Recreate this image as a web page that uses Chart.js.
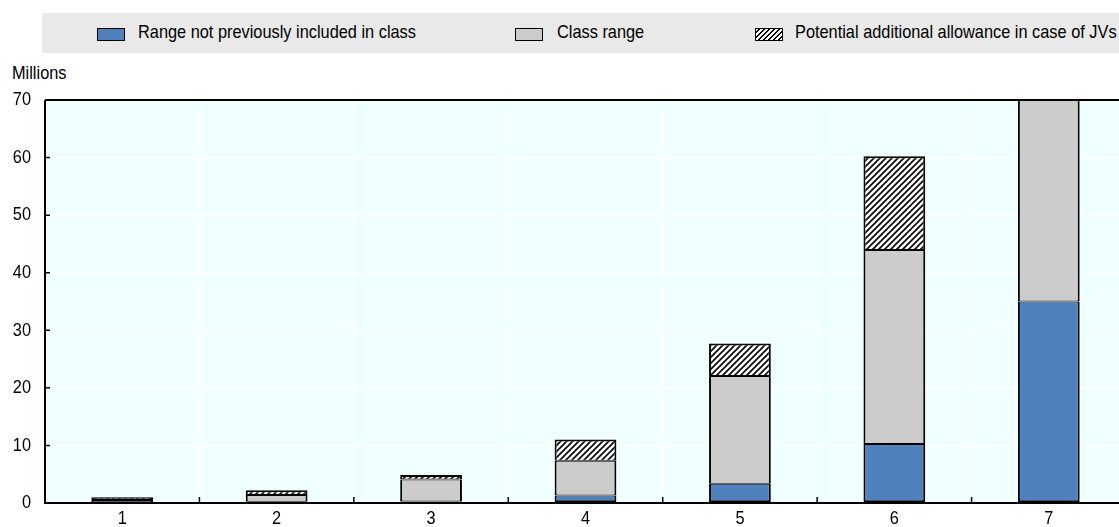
<!DOCTYPE html>
<html>
<head>
<meta charset="utf-8">
<script src="https://cdn.jsdelivr.net/npm/chart.js@4"></script>
<style>
html,body{margin:0;padding:0;background:#fff;overflow:hidden;width:1119px;height:527px;}
body{position:relative;font-family:"Liberation Sans",Arial,sans-serif;color:#000;}
#wrap{position:absolute;left:0;top:0;width:1130px;height:527px;}
#legend{position:absolute;left:42px;top:13px;width:1090px;height:40px;background:#e9e9e9;}
.item{position:absolute;top:0;height:40px;line-height:40px;font-size:19px;white-space:nowrap;}
.box{position:absolute;top:15px;width:26px;height:11px;border:1.5px solid #000;}
.lbl{position:absolute;top:-1px;transform:scaleX(0.86);transform-origin:0 50%;}
#millions{position:absolute;left:12px;top:62px;font-size:19px;transform:scaleX(0.86);transform-origin:0 50%;}
</style>
</head>
<body>
<div id="legend">
  <div class="item" style="left:55px"><div class="box" style="left:0;background:#4F81BD"></div><span class="lbl" style="left:41px">Range not previously included in class</span></div>
  <div class="item" style="left:473px"><div class="box" style="left:0;background:#CCCCCC"></div><span class="lbl" style="left:42px">Class range</span></div>
  <div class="item" style="left:713px"><div class="box" style="left:0;background:repeating-linear-gradient(135deg,#fff 0 2px,#000 2px 3.5px)"></div><span class="lbl" style="left:40px">Potential additional allowance in case of JVs</span></div>
</div>
<div id="millions">Millions</div>
<div id="wrap"><canvas id="c" width="1130" height="527"></canvas></div>
<script>
const categories = ['1','2','3','4','5','6','7'];
const notIncluded = [0, 0.2, 0.25, 1.3, 3.35, 10.25, 35];
const classRange = [0.5, 1.2, 3.85, 6.05, 18.7, 33.7, 45];
const jvAllowance = [0.5, 0.8, 0.75, 3.7, 5.65, 16.3, 20];
const yTicks = [0,10,20,30,40,50,60,70];

function hatch(){
  const s=6, p=document.createElement('canvas');
  p.width=s;p.height=s;
  const g=p.getContext('2d');
  g.fillStyle='#fff';g.fillRect(0,0,s,s);
  g.strokeStyle='#000';g.lineWidth=1.6;
  g.beginPath();
  g.moveTo(-1,s+1);g.lineTo(s+1,-1);
  g.moveTo(-1,1);g.lineTo(1,-1);
  g.moveTo(s-1,s+1);g.lineTo(s+1,s-1);
  g.stroke();
  return g.createPattern(p,'repeat');
}

const LABEL_FONT = '19px "Liberation Sans", Arial, sans-serif';
const SQUEEZE = 0.86;

const framePlugin = {
  id:'frame',
  beforeDraw(chart){
    const {ctx, chartArea:a} = chart;
    ctx.save();
    ctx.fillStyle='#F0FFFF';
    ctx.fillRect(a.left,a.top,a.right-a.left,a.bottom-a.top);
    ctx.restore();
  },
  afterDatasetsDraw(chart){
    const {ctx, chartArea:a, scales} = chart;
    ctx.save();
    ctx.strokeStyle='#000';
    ctx.lineWidth=2;
    ctx.beginPath();
    ctx.moveTo(a.left,a.top);ctx.lineTo(a.right,a.top);
    ctx.moveTo(a.left,a.top);ctx.lineTo(a.left,a.bottom);
    ctx.moveTo(a.left-1,a.bottom);ctx.lineTo(a.right,a.bottom);
    ctx.stroke();
    ctx.lineWidth=1.5;
    ctx.beginPath();
    yTicks.forEach(v=>{const y=scales.y.getPixelForValue(v);ctx.moveTo(a.left,y);ctx.lineTo(a.left+5,y);});
    const xs=scales.x;
    const step=xs.getPixelForTick(1)-xs.getPixelForTick(0);
    for(let i=1;i<=categories.length;i++){
      const x = xs.getPixelForTick(i-1)+step/2;
      ctx.moveTo(x,a.bottom);ctx.lineTo(x,a.bottom-6);
    }
    ctx.stroke();
    // tick labels (condensed)
    ctx.fillStyle='#000';
    ctx.font=LABEL_FONT;
    ctx.textBaseline='middle';
    ctx.textAlign='right';
    yTicks.forEach(v=>{
      const y=scales.y.getPixelForValue(v);
      ctx.save();ctx.translate(31,y);ctx.scale(SQUEEZE,1);ctx.fillText(String(v),0,0);ctx.restore();
    });
    ctx.textAlign='center';
    categories.forEach((c,i)=>{
      const x=xs.getPixelForTick(i);
      ctx.save();ctx.translate(x,a.bottom+16);ctx.scale(SQUEEZE,1);ctx.fillText(c,0,0);ctx.restore();
    });
    ctx.restore();
  }
};

const common = {borderColor:'#000', borderSkipped:false, barPercentage:0.4, categoryPercentage:1};
new Chart(document.getElementById('c'),{
  type:'bar',
  data:{labels:categories,datasets:[
    Object.assign({label:'Range not previously included in class',data:notIncluded,backgroundColor:'#4F81BD',borderWidth:{left:2,right:2,top:1,bottom:2}},common),
    Object.assign({label:'Class range',data:classRange,backgroundColor:'#CCCCCC',borderWidth:{left:2,right:2,top:1,bottom:1}},common),
    Object.assign({label:'Potential additional allowance in case of JVs',data:jvAllowance,backgroundColor:hatch(),borderWidth:{left:2,right:2,top:2,bottom:1}},common)
  ]},
  options:{
    responsive:false,animation:false,
    layout:{padding:{top:100,right:4,left:0,bottom:0}},
    plugins:{legend:{display:false},tooltip:{enabled:false}},
    scales:{
      x:{stacked:true,
        grid:{color:'#ffffff',lineWidth:1.5,drawTicks:false,offset:true},
        border:{display:false},
        ticks:{display:false},
        afterFit(s){s.height=24;}
      },
      y:{stacked:true,min:0,max:70,
        grid:{color:'#ffffff',lineWidth:1.5,drawTicks:false},
        border:{display:false},
        afterBuildTicks(s){s.ticks=yTicks.map(v=>({value:v}));},
        ticks:{display:false},
        afterFit(s){s.width=45;}
      }
    }
  },
  plugins:[framePlugin]
});
</script>
</body>
</html>
